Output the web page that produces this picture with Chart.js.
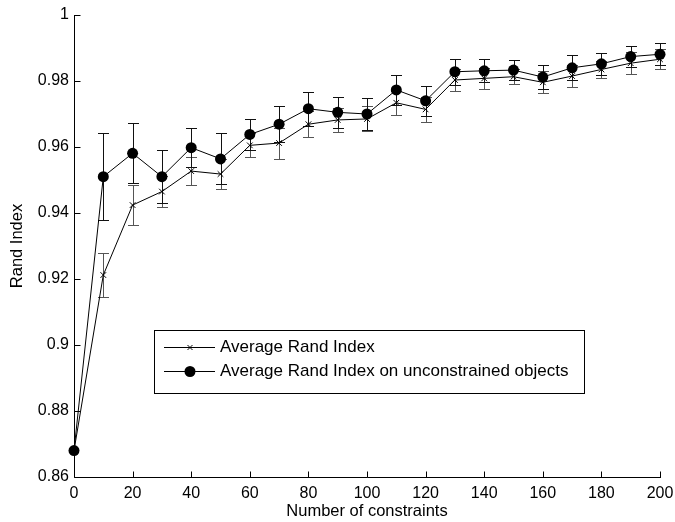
<!DOCTYPE html>
<html>
<head>
<meta charset="utf-8">
<script src="https://cdn.jsdelivr.net/npm/chart.js@4/dist/chart.umd.min.js"></script>
<style>
  html, body { margin: 0; padding: 0; background: #fff; }
  #wrap { width: 675px; height: 522px; }
</style>
</head>
<body>
<div id="wrap"><canvas id="c" width="675" height="522"></canvas></div>
<script>
// ---- data ----
const constraints = [0, 10, 20, 30, 40, 50, 60, 70, 80, 90, 100, 110, 120, 130, 140, 150, 160, 170, 180, 190, 200];
const avgRandIndex = [0.868, 0.9212, 0.9424, 0.9465, 0.9527, 0.9518, 0.9605, 0.9612, 0.9669, 0.9682, 0.9685, 0.9734, 0.9714, 0.9803, 0.9808, 0.9813, 0.9796, 0.9815, 0.9835, 0.9854, 0.9866];
const avgRandIndexErr = [0, 0.0068, 0.0060, 0.0046, 0.0042, 0.0046, 0.0036, 0.0047, 0.0040, 0.0036, 0.0038, 0.0037, 0.0037, 0.0032, 0.0032, 0.0023, 0.0033, 0.0032, 0.0027, 0.0034, 0.0030];
const avgRandUnconstr = [0.868, 0.951, 0.9581, 0.951, 0.9598, 0.9564, 0.9638, 0.9669, 0.9716, 0.9705, 0.9700, 0.9773, 0.9740, 0.9828, 0.9831, 0.9833, 0.9812, 0.9840, 0.9852, 0.9874, 0.9881];
const avgRandUnconstrErr = [0, 0.0131, 0.0091, 0.0080, 0.0060, 0.0077, 0.0048, 0.0054, 0.0052, 0.0047, 0.0048, 0.0045, 0.0046, 0.0039, 0.0035, 0.0031, 0.0036, 0.0038, 0.0034, 0.0033, 0.0033];
const seriesLabels = ['Average Rand Index', 'Average Rand Index on unconstrained objects'];
const xTitle = 'Number of constraints';
const yTitle = 'Rand Index';
const yTicks = [0.86, 0.88, 0.9, 0.92, 0.94, 0.96, 0.98, 1];
const xTicks = [0, 20, 40, 60, 80, 100, 120, 140, 160, 180, 200];

const FONT = "'Liberation Sans', Arial, Helvetica, sans-serif";

const toPts = (ys) => constraints.map((x, i) => ({ x: x, y: ys[i] }));

// error bars plugin
const errorBars = {
  id: 'errorBars',
  beforeDatasetsDraw(chart) {
    const ctx = chart.ctx, xs = chart.scales.x, ys = chart.scales.y;
    chart.data.datasets.forEach((ds) => {
      if (!ds.errors) return;
      ctx.save();
      ctx.strokeStyle = ds.errorColor;
      ctx.lineWidth = 1;
      ds.data.forEach((p, i) => {
        const e = ds.errors[i];
        if (!e) return;
        const px = Math.round(xs.getPixelForValue(p.x)) + 0.5;
        const yt = Math.round(ys.getPixelForValue(p.y + e)) + 0.5;
        const yb = Math.round(ys.getPixelForValue(p.y - e)) + 0.5;
        const cw = 5.5;
        ctx.beginPath();
        ctx.moveTo(px, yt); ctx.lineTo(px, yb);
        ctx.moveTo(px - cw, yt); ctx.lineTo(px + cw, yt);
        ctx.moveTo(px - cw, yb); ctx.lineTo(px + cw, yb);
        ctx.stroke();
      });
      ctx.restore();
    });
  }
};

// axes with inward ticks (MATLAB style, box off)
const matlabAxes = {
  id: 'matlabAxes',
  afterDraw(chart) {
    const ctx = chart.ctx, xs = chart.scales.x, ys = chart.scales.y;
    const a = chart.chartArea;
    const L = Math.round(a.left) + 0.5, B = Math.round(a.bottom) + 0.5;
    ctx.save();
    ctx.strokeStyle = '#000';
    ctx.lineWidth = 1;
    ctx.beginPath();
    ctx.moveTo(L, Math.round(a.top)); ctx.lineTo(L, B);
    ctx.lineTo(Math.round(a.right) + 1, B);
    yTicks.forEach(v => {
      const y = Math.round(ys.getPixelForValue(v)) + 0.5;
      ctx.moveTo(L, y); ctx.lineTo(L + 6, y);
    });
    xTicks.forEach(v => {
      const x = Math.round(xs.getPixelForValue(v)) + 0.5;
      ctx.moveTo(x, B); ctx.lineTo(x, B - 6);
    });
    ctx.stroke();
    ctx.restore();
  }
};

// inside legend box
const boxLegend = {
  id: 'boxLegend',
  afterDraw(chart, args, opts) {
    const ctx = chart.ctx;
    const a = chart.chartArea;
    const left = a.left + opts.dx, top = a.top + opts.dy;
    ctx.save();
    ctx.fillStyle = '#fff';
    ctx.fillRect(left, top, opts.w, opts.h);
    ctx.strokeStyle = '#000';
    ctx.lineWidth = 1;
    ctx.strokeRect(left + 0.5, top + 0.5, opts.w, opts.h);
    ctx.font = opts.fontSize + 'px ' + FONT;
    ctx.textBaseline = 'middle';
    chart.data.datasets.forEach((ds, i) => {
      const y = Math.round(top + opts.rowY[i]) + 0.5;
      const x0 = left + 10, x1 = left + 61, xm = left + 36;
      ctx.strokeStyle = '#000';
      ctx.lineWidth = 1;
      ctx.beginPath(); ctx.moveTo(x0, y); ctx.lineTo(x1, y); ctx.stroke();
      if (ds.pointStyle === 'circle') {
        ctx.fillStyle = '#000'; ctx.beginPath(); ctx.arc(xm, y, ds.pointRadius, 0, Math.PI * 2); ctx.fill();
      } else {
        Chart.helpers.drawPoint(ctx, { pointStyle: ds.pointStyle, radius: 3.5, borderWidth: 1 }, xm, y);
      }
      ctx.fillStyle = '#000';
      ctx.fillText(ds.label, left + 66, y);
    });
    ctx.restore();
  }
};

Chart.defaults.font.family = FONT;
Chart.defaults.color = '#000';

new Chart(document.getElementById('c'), {
  type: 'line',
  data: {
    datasets: [
      {
        label: seriesLabels[0],
        data: toPts(avgRandIndex),
        errors: avgRandIndexErr,
        errorColor: '#555',
        borderColor: '#000',
        backgroundColor: '#000',
        borderWidth: 1,
        pointStyle: 'crossRot',
        pointRadius: 4,
        pointBorderWidth: 1,
        pointBorderColor: '#000',
        tension: 0
      },
      {
        label: seriesLabels[1],
        data: toPts(avgRandUnconstr),
        errors: avgRandUnconstrErr,
        errorColor: '#111',
        borderColor: '#000',
        backgroundColor: '#000',
        borderWidth: 1,
        pointStyle: 'circle',
        pointRadius: 5.5,
        pointBorderWidth: 0,
        pointBackgroundColor: '#000',
        pointBorderColor: '#000',
        tension: 0
      }
    ]
  },
  options: {
    responsive: false,
    animation: false,
    devicePixelRatio: 1,
    clip: false,
    layout: { padding: { top: 15, right: 15, left: 0, bottom: 0 } },
    plugins: {
      legend: { display: false },
      tooltip: { enabled: false },
      boxLegend: { dx: 80, dy: 315, w: 430, h: 63, rowY: [17, 41], fontSize: 17 }
    },
    scales: {
      x: {
        type: 'linear',
        min: 0, max: 200,
        afterBuildTicks: (s) => { s.ticks = xTicks.map(v => ({ value: v })); },
        afterFit: (s) => { s.height = 45; s.paddingLeft = 0; s.paddingRight = 0; },
        grid: { display: false, drawTicks: false },
        border: { display: false },
        ticks: { font: { size: 16 }, padding: 7, maxRotation: 0, autoSkip: false,
                 callback: (v) => String(v) },
        title: { display: true, text: xTitle, font: { size: 16.5 }, padding: { top: 0, bottom: 1 } }
      },
      y: {
        type: 'linear',
        min: 0.86, max: 1,
        afterBuildTicks: (s) => { s.ticks = yTicks.map(v => ({ value: v })); },
        afterFit: (s) => { s.width = 74; s.paddingTop = 0; s.paddingBottom = 0; },
        grid: { display: false, drawTicks: false },
        border: { display: false },
        ticks: { font: { size: 16 }, padding: 5, autoSkip: false,
                 callback: (v) => String(Number(v.toFixed(2))) },
        title: { display: true, text: yTitle, font: { size: 16.5 }, padding: { top: 8, bottom: 0 } }
      }
    }
  },
  plugins: [errorBars, matlabAxes, boxLegend]
});
</script>
</body>
</html>
